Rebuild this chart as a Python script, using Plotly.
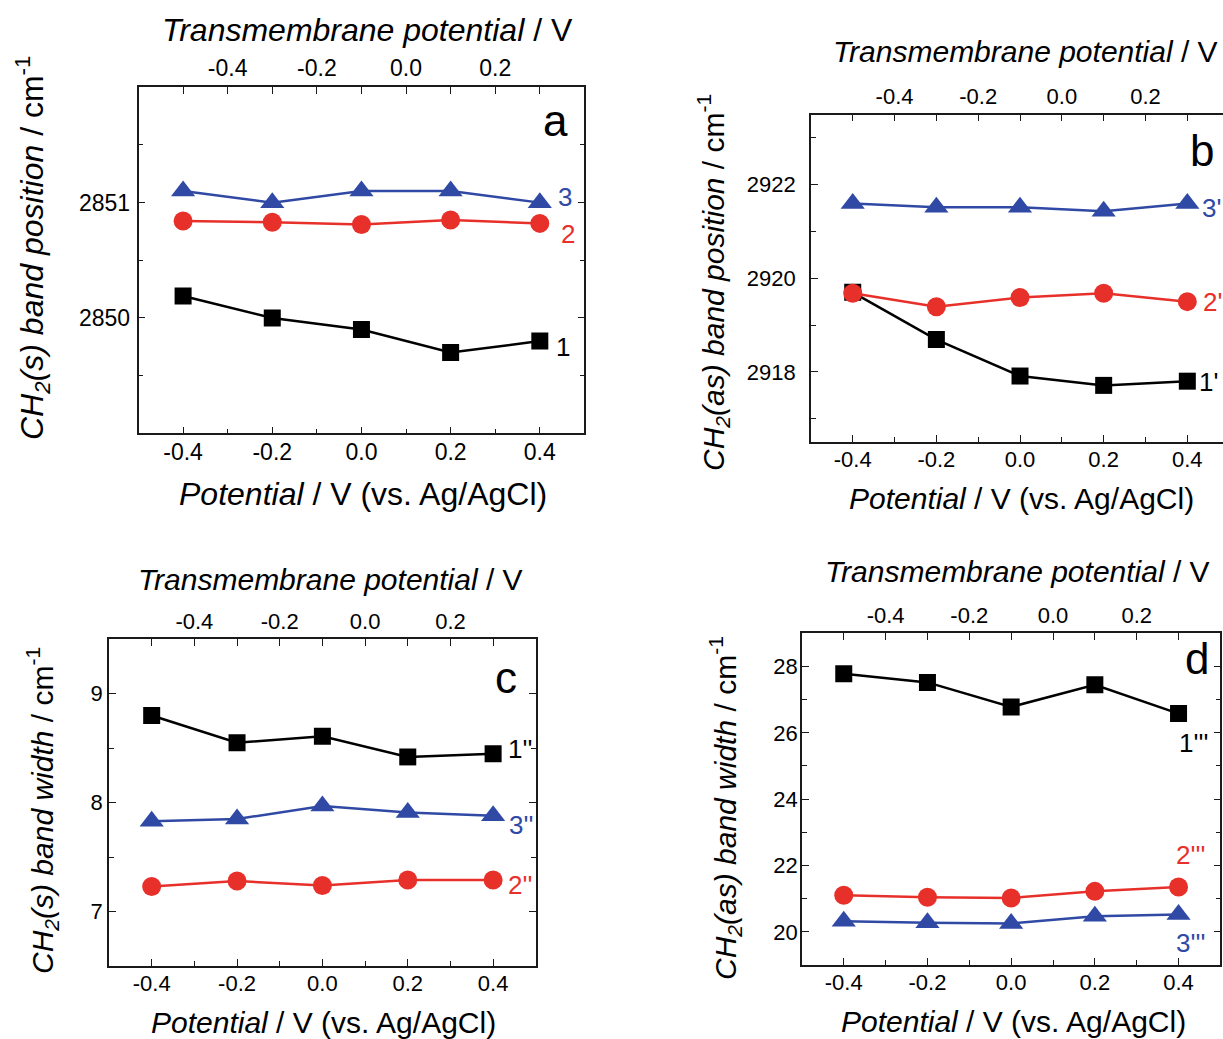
import plotly.graph_objects as go

# ---------------- data ----------------
potential = [-0.4, -0.2, 0.0, 0.2, 0.4]          # V vs. Ag/AgCl
bottom_ticks = [-0.4, -0.2, 0.0, 0.2, 0.4]
bottom_ticktext = ["-0.4", "-0.2", "0.0", "0.2", "0.4"]
top_ticks = [-0.4, -0.2, 0.0, 0.2]
top_ticktext = ["-0.4", "-0.2", "0.0", "0.2"]
tm_offset = 0.1                                    # transmembrane = potential - 0.1

# panel a : CH2(s) band position
a_1 = [2850.19, 2850.00, 2849.90, 2849.70, 2849.80]
a_2 = [2850.84, 2850.83, 2850.81, 2850.85, 2850.82]
a_3 = [2851.10, 2851.00, 2851.10, 2851.10, 2851.00]
# panel b : CH2(as) band position
b_1 = [2919.70, 2918.69, 2917.91, 2917.71, 2917.80]
b_2 = [2919.68, 2919.39, 2919.59, 2919.68, 2919.50]
b_3 = [2921.60, 2921.52, 2921.52, 2921.43, 2921.60]
# panel c : CH2(s) band width
c_1 = [8.80, 8.55, 8.61, 8.42, 8.45]
c_2 = [7.23, 7.28, 7.24, 7.29, 7.29]
c_3 = [7.83, 7.85, 7.97, 7.91, 7.88]
# panel d : CH2(as) band width
d_1 = [27.78, 27.52, 26.78, 27.45, 26.58]
d_2 = [21.10, 21.04, 21.02, 21.22, 21.35]
d_3 = [20.32, 20.27, 20.25, 20.47, 20.52]

W, H = 1223, 1039
FONT = "Liberation Sans, Arial, sans-serif"
BLACK, RED, BLUE = "#000000", "#e8302a", "#2f49a5"
FRAME = "#1a1a1a"


def X(p):
    return p / W


def Y(p):
    return 1 - p / H


fig = go.Figure()

panels = [
    dict(key="a", xpx=(138.5, 584.4), ypx=(87.3, 433.3), xr=[-0.5, 0.5],
         yr=[2849, 2852], yt=[2850, 2851], ym=[2849.5, 2850.5, 2851.5],
         series=[a_1, a_2, a_3], mirror=True, ystand=2, tfs=23),
    dict(key="b", xpx=(810.9, 1223), ypx=(114.5, 442.0), xr=[-0.5, 0.4853],
         yr=[2916.5, 2923.5], yt=[2918, 2920, 2922], ym=[2917, 2919, 2921, 2923],
         series=[b_1, b_2, b_3], mirror=False, ystand=9, tfs=22),
    dict(key="c", xpx=(109.0, 535.8), ypx=(639.3, 966.0), xr=[-0.5, 0.5],
         yr=[6.5, 9.5], yt=[7, 8, 9], ym=[7.5, 8.5],
         series=[c_1, c_2, c_3], mirror=True, ystand=0, tfs=22),
    dict(key="d", xpx=(801.9, 1220.4), ypx=(633.3, 965.0), xr=[-0.5, 0.5],
         yr=[19, 29], yt=[20, 22, 24, 26, 28], ym=[21, 23, 25, 27],
         series=[d_1, d_2, d_3], mirror=True, ystand=-2, tfs=22),
]

styles = [
    dict(color=BLACK, symbol="square", size=17),
    dict(color=RED, symbol="circle", size=19),
    dict(color=BLUE, symbol="triangle-up", size=21),
]

for i, p in enumerate(panels):
    tickfont = dict(family=FONT, size=p["tfs"], color="#000")
    xb = f"x{2*i+1}" if i > 0 else "x"
    xt = f"x{2*i+2}"
    yy = f"y{i+1}" if i > 0 else "y"
    xb_name = "xaxis" if i == 0 else f"xaxis{2*i+1}"
    xt_name = f"xaxis{2*i+2}"
    y_name = "yaxis" if i == 0 else f"yaxis{i+1}"
    dom_x = [X(p["xpx"][0]), min(1.0, X(p["xpx"][1]))]
    dom_y = [Y(p["ypx"][1]), Y(p["ypx"][0])]

    for ser, st in zip(p["series"], styles):
        fig.add_trace(go.Scatter(
            x=potential, y=ser, xaxis=xb, yaxis=yy, mode="lines+markers",
            line=dict(color=st["color"], width=2.5),
            marker=dict(symbol=st["symbol"], size=st["size"], color=st["color"]),
            showlegend=False, hoverinfo="skip"))
    # placeholder so the top (transmembrane) axis is rendered
    fig.add_trace(go.Scatter(x=[None], y=[None], xaxis=xt, yaxis=yy,
                             showlegend=False, hoverinfo="skip"))

    fig.update_layout(**{
        xb_name: dict(domain=dom_x, anchor=yy, range=p["xr"], side="bottom",
                      showline=True, linecolor=FRAME, linewidth=1.6, mirror=False,
                      ticks="inside", ticklen=7, tickwidth=1.4, tickcolor=FRAME,
                      tickmode="array", tickvals=bottom_ticks, ticktext=bottom_ticktext,
                      minor=dict(tickmode="array", tickvals=[-0.3, -0.1, 0.1, 0.3],
                                 ticks="inside", ticklen=5, tickwidth=1.2, tickcolor=FRAME),
                      showgrid=False, zeroline=False, tickfont=tickfont,
                      ticklabelstandoff=-3),
        xt_name: dict(domain=dom_x, anchor=yy, overlaying=xb, side="top",
                      range=[p["xr"][0] - tm_offset, p["xr"][1] - tm_offset],
                      showline=True, linecolor=FRAME, linewidth=1.6,
                      ticks="inside", ticklen=7, tickwidth=1.4, tickcolor=FRAME,
                      tickmode="array", tickvals=top_ticks, ticktext=top_ticktext,
                      minor=dict(tickmode="array", tickvals=[-0.5, -0.3, -0.1, 0.1, 0.3],
                                 ticks="inside", ticklen=7, tickwidth=1.2, tickcolor=FRAME),
                      showgrid=False, zeroline=False, tickfont=tickfont,
                      ticklabelstandoff=0),
        y_name: dict(domain=dom_y, anchor=xb, range=p["yr"],
                     showline=True, linecolor=FRAME, linewidth=1.6,
                     mirror="ticks" if p["mirror"] else False,
                     ticks="inside", ticklen=7, tickwidth=1.4, tickcolor=FRAME,
                     tickmode="array", tickvals=p["yt"],
                     ticktext=[str(v) for v in p["yt"]],
                     minor=dict(tickmode="array", tickvals=p["ym"],
                                ticks="inside", ticklen=5, tickwidth=1.2, tickcolor=FRAME),
                     showgrid=False, zeroline=False, tickfont=tickfont,
                     ticklabelstandoff=p["ystand"]),
    })

ann = []


def text(x, y, s, size=32, color="#000", angle=0, xanchor="center"):
    ann.append(dict(x=X(x), y=Y(y), xref="paper", yref="paper", text=s,
                    showarrow=False, textangle=angle, xanchor=xanchor, yanchor="middle",
                    font=dict(family=FONT, size=size, color=color)))


tm_title = "<i>Transmembrane potential</i> / V"
pot_title = "<i>Potential</i> / V (vs. Ag/AgCl)"

# panel a
text(367, 30, tm_title)
text(363, 494, pot_title)
text(32, 248, "<i>CH<sub>2</sub>(s) band position</i> / cm<sup>-1</sup>", angle=-90)
text(555, 120, "a", size=44)
text(565, 197, "3", size=26, color=BLUE)
text(568, 234, "2", size=26, color=RED)
text(563, 347, "1", size=26, color=BLACK)

# panel b
text(1025, 51, tm_title, size=30)
text(1021, 498, pot_title, size=30)
text(713, 283, "<i>CH<sub>2</sub>(as) band position</i> / cm<sup>-1</sup>",
     size=30, angle=-90)
text(1202, 150, "b", size=44)
text(1200, 208, "3'", size=26, color=BLUE, xanchor="left")
text(1201, 302, "2'", size=26, color=RED, xanchor="left")
text(1197, 382, "1'", size=26, color=BLACK, xanchor="left")

# panel c
text(330, 579, tm_title, size=30)
text(323, 1022, pot_title, size=30)
text(42, 811, "<i>CH<sub>2</sub>(s) band width</i> / cm<sup>-1</sup>",
     size=30, angle=-90)
text(506, 677, "c", size=44)
text(506, 749, "1''", size=26, color=BLACK, xanchor="left")
text(507, 825, "3''", size=26, color=BLUE, xanchor="left")
text(506, 885, "2''", size=26, color=RED, xanchor="left")

# panel d
text(1017, 571, tm_title, size=30)
text(1013, 1021, pot_title, size=30)
text(725, 808, "<i>CH<sub>2</sub>(as) band width</i> / cm<sup>-1</sup>",
     size=30, angle=-90)
text(1197, 658, "d", size=44)
text(1193, 743, "1'''", size=26, color=BLACK)
text(1190, 855, "2'''", size=26, color=RED)
text(1190, 943, "3'''", size=26, color=BLUE)

fig.update_layout(width=W, height=H, margin=dict(l=0, r=0, t=0, b=0),
                  paper_bgcolor="white", plot_bgcolor="white",
                  annotations=ann, font=dict(family=FONT))

fig.write_html("out.html", config={"displayModeBar": False},
               post_script="document.body.style.margin='0px';"
                           "document.body.style.overflow='hidden';")
